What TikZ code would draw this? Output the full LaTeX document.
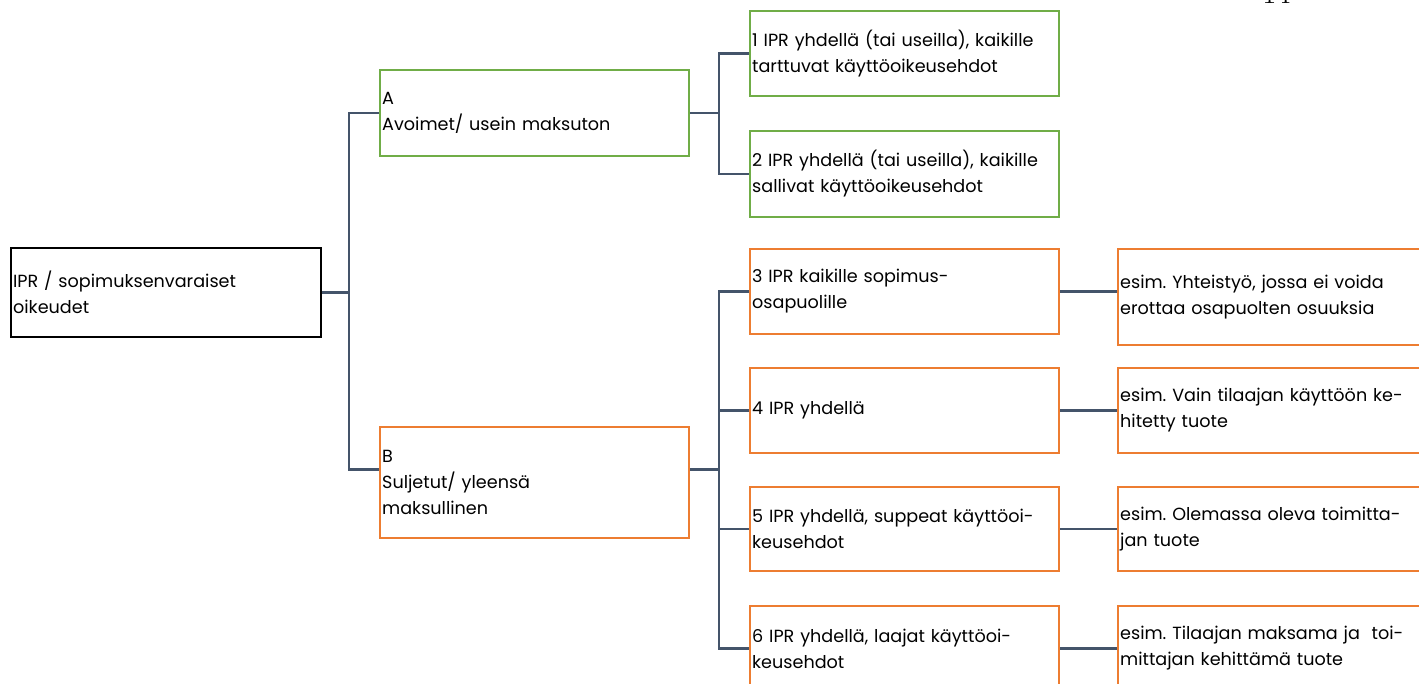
\documentclass[tikz,border=0pt]{standalone}
\usepackage{fontspec}
\newfontfamily\outfit{Poppins}
\frenchspacing
\definecolor{gbox}{HTML}{70AD47}
\definecolor{obox}{HTML}{ED7D31}
\definecolor{conn}{HTML}{44546A}
\tikzset{
  box/.style={draw, rectangle, line width=1.5pt, anchor=north west, align=left,
    inner xsep=1.6pt, inner ysep=0pt, minimum width=231.75pt,
    text width=228.5pt, font=\outfit\frenchspacing\fontsize{13.2pt}{19.5pt}\selectfont},
  gb/.style={box, draw=gbox},
  ob/.style={box, draw=obox},
  kb/.style={box, draw=black},
  link/.style={draw=conn, line width=2.1pt}
}
\begin{document}
\begin{tikzpicture}[x=0.75pt, y=-0.75pt]
\useasboundingbox (0,0) rectangle (1419,683);
\node[kb, minimum height=66.75pt, minimum width=232.5pt, text width=229.3pt] (root) at (10,247) {IPR / sopimuksenvaraiset\\oikeudet};
\node[gb, minimum height=64.5pt] (A) at (379,69) {A\\Avoimet/ usein maksuton};
\node[ob, minimum height=83.25pt] (B) at (379,426) {B\\Suljetut/ yleensä\\maksullinen};
\node[gb, minimum height=63.75pt] (n1) at (749,10) {1 IPR yhdellä (tai useilla), kaikille\\tarttuvat käyttöoikeusehdot};
\node[gb, minimum height=64.5pt] (n2) at (749,130) {2 IPR yhdellä (tai useilla), kaikille\\sallivat käyttöoikeusehdot};
\node[ob, minimum height=63.75pt] (n3) at (749,248) {3 IPR kaikille sopimus-\\osapuolille};
\node[ob, minimum height=63.75pt] (n4) at (749,367) {4 IPR yhdellä};
\node[ob, minimum height=63pt] (n5) at (749,486) {5 IPR yhdellä, suppeat käyttöoi-\\keusehdot};
\node[ob, minimum height=63.75pt] (n6) at (749,605) {6 IPR yhdellä, laajat käyttöoi-\\keusehdot};
\node[ob, minimum height=72pt] (r3) at (1117,248) {esim. Yhteistyö, jossa ei voida\\erottaa osapuolten osuuksia};
\node[ob, minimum height=63.75pt] (r4) at (1117,367) {esim. Vain tilaajan käyttöön ke-\\hitetty tuote};
\node[ob, minimum height=63pt] (r5) at (1117,486) {esim. Olemassa oleva toimitta-\\jan tuote};
\node[ob, minimum height=63.75pt] (r6) at (1117,605) {esim. Tilaajan maksama ja\ \ toi-\\mittajan kehittämä tuote};
\node[anchor=base west, inner sep=0pt, font=\fontsize{23pt}{25pt}\selectfont] (pg) at (1262,3) {14};
% connectors
\draw[link] (root.east) -- ++(27,0) coordinate (rj) |- (A.west);
\draw[link] (rj) |- ([yshift=9.75pt]B.west);
\draw[link] (A.east) -- ++(29,0) coordinate (aj) |- (n1.west);
\draw[link] (aj) |- (n2.west);
\draw[link] ([yshift=9.75pt]B.east) -- ++(29,0) coordinate (bj) |- (n3.west);
\draw[link] (bj) |- (n4.west);
\draw[link] (bj) |- (n5.west);
\draw[link] (bj) |- (n6.west);
\draw[link] (n3.east) -- (n3.east -| r3.west);
\draw[link] (n4.east) -- (n4.east -| r4.west);
\draw[link] (n5.east) -- (n5.east -| r5.west);
\draw[link] (n6.east) -- (n6.east -| r6.west);
\end{tikzpicture}
\end{document}
